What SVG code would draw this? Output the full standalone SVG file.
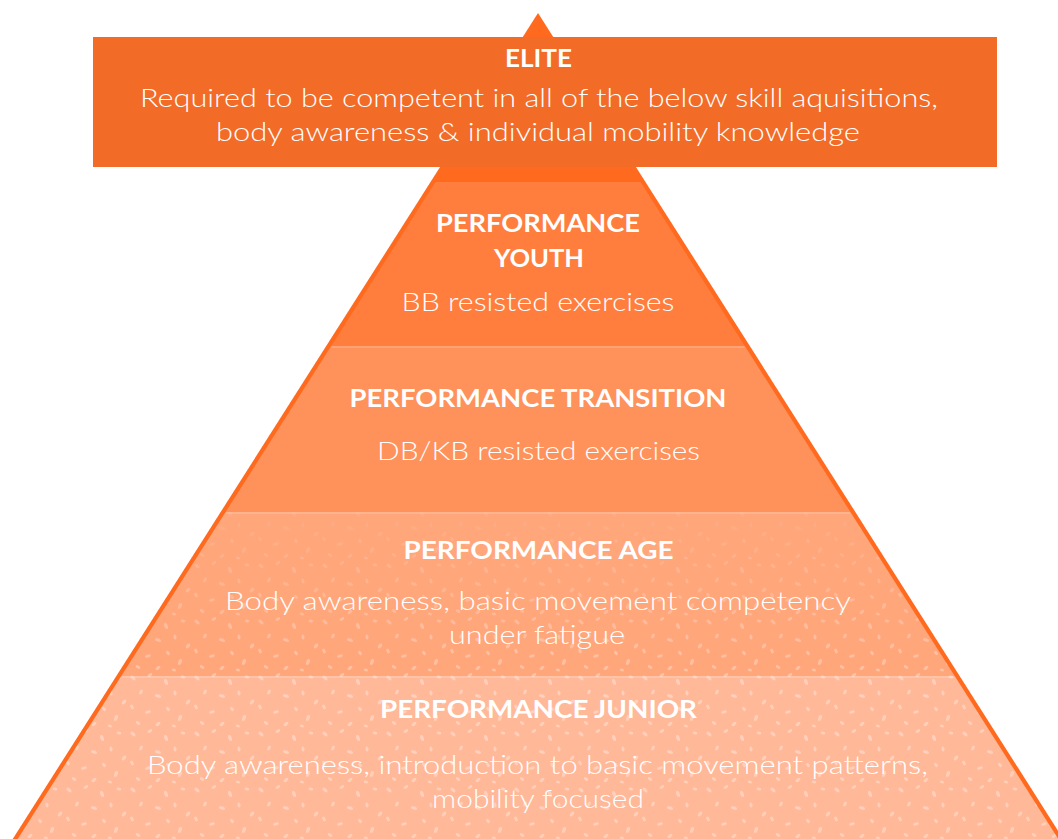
<svg xmlns="http://www.w3.org/2000/svg" width="1058" height="839" viewBox="0 0 1058 839">
  <style>
    .h { font-family: Lato, "Liberation Sans", sans-serif; font-weight: 700; font-size: 25px; fill: #ffffff; text-anchor: middle; }
    .b { font-family: Lato, "Liberation Sans", sans-serif; font-weight: 300; font-size: 26px; fill: #ffffff; text-anchor: middle; }
    .sep { stroke: #ffffff; stroke-opacity: 0.22; stroke-width: 1.5; }
  </style>
  <defs>
    <pattern id="speck" width="64" height="56" patternUnits="userSpaceOnUse">
      <g fill="#ffffff" fill-opacity="0.32">
        <ellipse cx="5" cy="6" rx="3" ry="1.7" transform="rotate(40 5 6)"/>
        <ellipse cx="22" cy="3" rx="2.6" ry="1.5" transform="rotate(-30 22 3)"/>
        <ellipse cx="38" cy="10" rx="3.2" ry="1.8" transform="rotate(70 38 10)"/>
        <ellipse cx="55" cy="5" rx="2.4" ry="1.5" transform="rotate(10 55 5)"/>
        <ellipse cx="13" cy="20" rx="2.5" ry="1.6" transform="rotate(-60 13 20)"/>
        <ellipse cx="30" cy="24" rx="3.1" ry="1.7" transform="rotate(20 30 24)"/>
        <ellipse cx="47" cy="21" rx="2.6" ry="1.5" transform="rotate(80 47 21)"/>
        <ellipse cx="60" cy="30" rx="2.8" ry="1.7" transform="rotate(-45 60 30)"/>
        <ellipse cx="4" cy="35" rx="2.6" ry="1.6" transform="rotate(65 4 35)"/>
        <ellipse cx="20" cy="40" rx="3" ry="1.6" transform="rotate(-15 20 40)"/>
        <ellipse cx="40" cy="37" rx="2.4" ry="1.5" transform="rotate(50 40 37)"/>
        <ellipse cx="52" cy="46" rx="3.1" ry="1.8" transform="rotate(-70 52 46)"/>
        <ellipse cx="10" cy="51" rx="2.5" ry="1.5" transform="rotate(30 10 51)"/>
        <ellipse cx="30" cy="52" rx="2.8" ry="1.6" transform="rotate(-40 30 52)"/>
        <ellipse cx="46" cy="54" rx="2.2" ry="1.4" transform="rotate(15 46 54)"/>
      </g>
    </pattern>
    <linearGradient id="fadeG" x1="0" y1="0" x2="0" y2="1">
      <stop offset="0" stop-color="#ffffff" stop-opacity="0.15"/>
      <stop offset="1" stop-color="#ffffff" stop-opacity="1"/>
    </linearGradient>
    <mask id="fadeM" maskUnits="userSpaceOnUse" x="0" y="512" width="1058" height="164">
      <rect x="0" y="512" width="1058" height="164" fill="url(#fadeG)"/>
    </mask>
  </defs>

  <rect width="1058" height="839" fill="#ffffff"/>

  <g id="pyramid-outline">
    <polygon points="538,13 1063.3,839 12.7,839" fill="#FF6A1F"/>
  </g>

  <g id="performance-youth">
    <polygon points="435.5,182 640.5,182 744.8,346 331.2,346" fill="#FF7D3D"/>
    <text class="h" x="538" y="232" textLength="204" lengthAdjust="spacingAndGlyphs">PERFORMANCE</text>
    <text class="h" x="539" y="267" textLength="90" lengthAdjust="spacingAndGlyphs">YOUTH</text>
    <text class="b" x="538" y="311" textLength="273" lengthAdjust="spacingAndGlyphs">BB resisted exercises</text>
  </g>

  <g id="performance-transition">
    <polygon points="331.2,346 744.8,346 850.4,512 225.6,512" fill="#FF915B"/>
    <line class="sep" x1="331.5" y1="347" x2="744.5" y2="347"/>
    <text class="h" x="538" y="407" textLength="377" lengthAdjust="spacingAndGlyphs">PERFORMANCE TRANSITION</text>
    <text class="b" x="538.5" y="460" textLength="323" lengthAdjust="spacingAndGlyphs">DB/KB resisted exercises</text>
  </g>

  <g id="performance-age">
    <polygon points="225.6,512 850.4,512 954.7,676 121.3,676" fill="#FFA67B"/>
    <polygon points="225.6,512 850.4,512 954.7,676 121.3,676" fill="url(#speck)" mask="url(#fadeM)"/>
    <line class="sep" x1="226" y1="513" x2="850" y2="513"/>
    <text class="h" x="538.5" y="559" textLength="270" lengthAdjust="spacingAndGlyphs">PERFORMANCE AGE</text>
    <text class="b" x="538" y="610" textLength="626" lengthAdjust="spacingAndGlyphs">Body awareness, basic movement competency</text>
    <text class="b" x="537" y="644" textLength="176" lengthAdjust="spacingAndGlyphs">under fatigue</text>
  </g>

  <g id="performance-junior">
    <polygon points="121.3,676 954.7,676 1058.3,839 17.7,839" fill="#FFB898"/>
    <polygon points="121.3,676 954.7,676 1058.3,839 17.7,839" fill="url(#speck)"/>
    <line class="sep" x1="122" y1="677" x2="954" y2="677"/>
    <text class="h" x="538.5" y="718" textLength="317" lengthAdjust="spacingAndGlyphs">PERFORMANCE JUNIOR</text>
    <text class="b" x="537.5" y="774" textLength="781" lengthAdjust="spacingAndGlyphs">Body awareness, introduction to basic movement patterns,</text>
    <text class="b" x="538" y="808" textLength="212" lengthAdjust="spacingAndGlyphs">mobility focused</text>
  </g>

  <g id="elite">
    <rect x="93" y="37" width="904" height="130" fill="#F26B27"/>
    <text class="h" x="538.5" y="67" textLength="67" lengthAdjust="spacingAndGlyphs">ELITE</text>
    <text class="b" x="539" y="107" textLength="798" lengthAdjust="spacingAndGlyphs">Required to be competent in all of the below skill aquisitions,</text>
    <text class="b" x="538" y="141" textLength="644" lengthAdjust="spacingAndGlyphs">body awareness &amp; individual mobility knowledge</text>
  </g>

  <g id="connectors"/>
</svg>
